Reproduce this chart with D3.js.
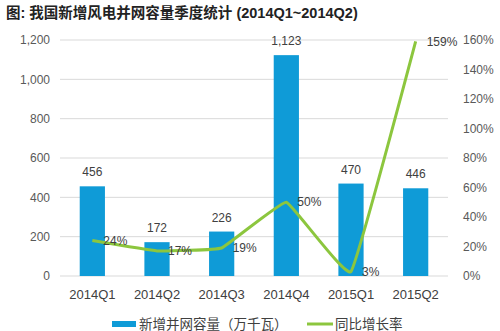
<!DOCTYPE html>
<html>
<head>
<meta charset="utf-8">
<script src="https://cdn.jsdelivr.net/npm/d3@7"></script>
<style>
  html, body { margin: 0; padding: 0; background: #fff; }
  svg { display: block; font-family: Arial, "Liberation Sans", "Noto Sans CJK SC", sans-serif; }
</style>
</head>
<body>
<svg id="chart" width="500" height="331"></svg>
<script>
// Quarterly newly grid-connected wind capacity (10k kW) and YoY growth
const quarters = ["2014Q1", "2014Q2", "2014Q3", "2014Q4", "2015Q1", "2015Q2"];
const capacity = [456, 172, 226, 1123, 470, 446];
const growth = [24, 17, 19, 50, 3, 159];
const leftTicks = [0, 200, 400, 600, 800, 1000, 1200];
const rightTicks = [0, 20, 40, 60, 80, 100, 120, 140, 160];

const titleText = "图: 我国新增风电并网容量季度统计 (2014Q1~2014Q2)";
const barName = "新增并网容量（万千瓦）";
const lineName = "同比增长率";

const svg = d3.select("#chart");
const margin = { left: 60, right: 52, top: 40, bottom: 55 };
const W = 500, H = 331;
const plotW = W - margin.left - margin.right;
const yTop = 40, yBottom = 276;

const x = d3.scaleBand().domain(quarters).range([margin.left, margin.left + plotW]).paddingInner(0.61).paddingOuter(0.305);
const yL = d3.scaleLinear().domain([0, 1200]).range([yBottom, yTop]);
const yR = d3.scaleLinear().domain([0, 160]).range([yBottom, yTop]);

const blue = "#0f9bd7";
const green = "#8cc63e";
const textCol = "#595959";

// Title
svg.append("text")
  .attr("x", 6).attr("y", 18)
  .attr("font-size", 14.5).attr("font-weight", "bold").attr("fill", "#222")
  .text(titleText);

// Gridlines
svg.append("g").selectAll("line").data(leftTicks).join("line")
  .attr("x1", margin.left).attr("x2", margin.left + plotW)
  .attr("y1", d => yL(d)).attr("y2", d => yL(d))
  .attr("stroke", "#d9d9d9").attr("stroke-width", 1);

// Left axis
const leftAxis = d3.axisLeft(yL).tickValues(leftTicks).tickSize(0).tickPadding(10).tickFormat(d3.format(","));
const gl = svg.append("g").attr("transform", `translate(${margin.left},0)`).call(leftAxis);
gl.select(".domain").remove();
gl.selectAll("text").attr("font-size", 12).attr("fill", textCol).attr("font-family", null);

// Right axis
const rightAxis = d3.axisRight(yR).tickValues(rightTicks).tickSize(0).tickPadding(15).tickFormat(d => d + "%");
const gr = svg.append("g").attr("transform", `translate(${margin.left + plotW},0)`).call(rightAxis);
gr.select(".domain").remove();
gr.selectAll("text").attr("font-size", 12).attr("fill", textCol).attr("font-family", null);

// Bottom axis
const bottomAxis = d3.axisBottom(x).tickSize(0).tickPadding(14);
const gb = svg.append("g").attr("transform", `translate(0,${yBottom})`).call(bottomAxis);
gb.select(".domain").remove();
gb.selectAll("text").attr("font-size", 13).attr("fill", "#404040").attr("font-family", null);

// Bars
svg.append("g").selectAll("rect").data(quarters).join("rect")
  .attr("x", d => x(d)).attr("width", x.bandwidth())
  .attr("y", (d, i) => yL(capacity[i]))
  .attr("height", (d, i) => yL(0) - yL(capacity[i]))
  .attr("fill", blue);

// Bar value labels
svg.append("g").selectAll("text").data(quarters).join("text")
  .attr("x", d => x(d) + x.bandwidth() / 2)
  .attr("y", (d, i) => yL(capacity[i]) - 10)
  .attr("text-anchor", "middle").attr("font-size", 12).attr("fill", "#404040")
  .text((d, i) => d3.format(",")(capacity[i]));

// Growth line (lightly smoothed)
const cx = d => x(d) + x.bandwidth() / 2;
const line = d3.line()
  .x(d => cx(d))
  .y((d, i) => yR(growth[i]))
  .curve(d3.curveCardinal.tension(0.75));
svg.append("path").datum(quarters)
  .attr("d", line)
  .attr("fill", "none").attr("stroke", green).attr("stroke-width", 3)
  .attr("stroke-linejoin", "round");

// Growth labels
svg.append("g").selectAll("text").data(quarters).join("text")
  .attr("x", d => cx(d) + 11)
  .attr("y", (d, i) => yR(growth[i]))
  .attr("dy", "0.35em")
  .attr("font-size", 12).attr("fill", "#404040")
  .text((d, i) => growth[i] + "%");

// Legend
const lg = svg.append("g");
lg.append("rect").attr("x", 112).attr("y", 321).attr("width", 24).attr("height", 6).attr("fill", blue);
lg.append("text").attr("x", 139).attr("y", 324).attr("dy", "0.35em")
  .attr("font-size", 13.5).attr("fill", "#404040").text(barName);
lg.append("line").attr("x1", 307).attr("x2", 333).attr("y1", 324).attr("y2", 324)
  .attr("stroke", green).attr("stroke-width", 3);
lg.append("text").attr("x", 335).attr("y", 324).attr("dy", "0.35em")
  .attr("font-size", 13.5).attr("fill", "#404040").text(lineName);
</script>
</body>
</html>
